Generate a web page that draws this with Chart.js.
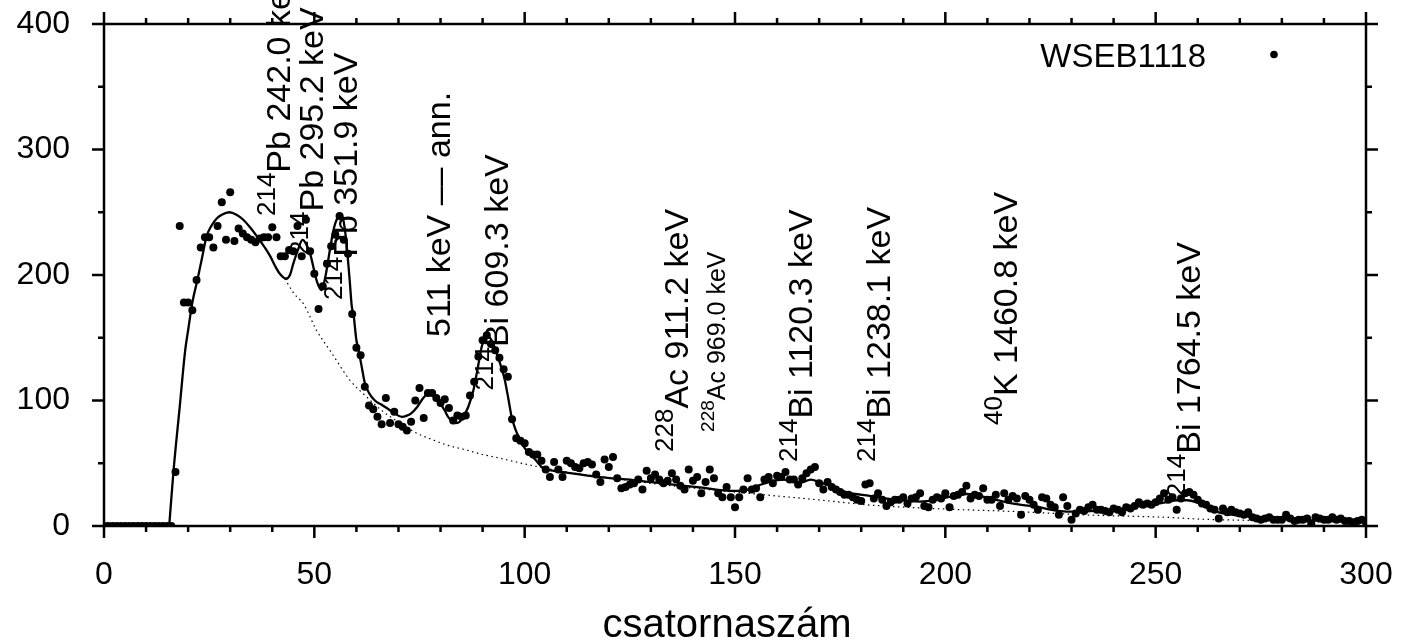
<!DOCTYPE html>
<html>
<head>
<meta charset="utf-8">
<title>WSEB1118</title>
<script src="https://cdn.jsdelivr.net/npm/chart.js@4.4.1/dist/chart.umd.min.js"></script>
<style>
  html, body { margin: 0; padding: 0; background: #fff; }
  canvas { display: block; }
</style>
</head>
<body>
<canvas id="spectrum" width="1412" height="641"></canvas>
<script>
// ─── Gamma spectrum, sample WSEB1118 ───────────────────────────────────────
// counts per channel (0..300), the fitted model and its background

const counts = [
  0, 0, 0, 0, 0, 0, 0, 0, 0, 0,
  0, 0, 0, 0, 0, 0, 0, 43, 239, 178,
  178, 172, 196, 222, 230, 230, 222, 239, 258, 228,
  266, 227, 237, 233, 230, 228, 226, 229, 230, 230,
  238, 230, 215, 215, 220, 219, 239, 215, 244, 219,
  201, 173, 191, 209, 223, 232, 247, 228, 217, 169,
  142, 136, 111, 96, 93, 87, 81, 102, 82, 91,
  81, 79, 76, 83, 100, 110, 86, 106, 106, 102,
  98, 101, 94, 84, 88, 87, 88, 104, 115, 135,
  148, 152, 145, 140, 134, 125, 119, 85, 70, 68,
  66, 59, 57, 57, 52, 45, 39, 51, 45, 39,
  52, 50, 47, 46, 50, 51, 49, 41, 35, 53,
  47, 55, 38, 30, 31, 33, 34, 37, 29, 44,
  38, 41, 37, 34, 36, 42, 37, 32, 29, 45,
  36, 39, 26, 35, 45, 38, 26, 23, 31, 23,
  15, 23, 29, 38, 29, 30, 23, 37, 39, 34,
  40, 39, 43, 37, 37, 33, 38, 42, 45, 47,
  34, 29, 35, 31, 29, 27, 25, 25, 23, 21,
  20, 33, 34, 22, 26, 21, 16, 19, 21, 21,
  23, 18, 22, 23, 26, 16, 15, 21, 23, 22,
  26, 15, 24, 25, 27, 32, 22, 25, 24, 30,
  21, 21, 25, 16, 26, 21, 24, 22, 9, 24,
  21, 17, 13, 23, 22, 17, 15, 9, 23, 16,
  5, 10, 13, 12, 15, 17, 13, 13, 12, 11,
  14, 13, 11, 15, 14, 16, 19, 17, 18, 17,
  19, 22, 26, 21, 23, 13, 22, 26, 27, 25,
  21, 18, 17, 14, 13, 6, 14, 11, 13, 11,
  10, 9, 11, 7, 6, 5, 6, 7, 5, 5,
  5, 9, 6, 4, 5, 5, 6, 2, 7, 6,
  5, 5, 7, 5, 6, 4, 4, 3, 4, 5,
  3
];

// fitted model (solid line)
const fitCh = [
  15.5, 16.5, 18, 19.3, 20, 21, 22.2, 23.2, 24.4, 25.5, 26.8, 28, 29.8, 31.5, 33.1,
  34.7, 36.3, 38, 39.5, 40.7, 41.8, 43.3, 44.2, 45, 46, 47.2, 48, 49, 50, 50.6,
  51.7, 52.7, 53.7, 54.5, 55.3, 56.5, 57.2, 57.7, 58.4, 58.9, 59.3, 60, 60.4, 61.2, 62,
  63, 64.4, 65.8, 67.2, 69, 70.8, 72, 73.1, 74.5, 75.9, 77.5, 78.7, 79.9, 81, 81.8,
  83.4, 84.5, 85.4, 86.6, 87.8, 88.8, 89.8, 90.5, 91.3, 92.3, 93.3, 94.3, 95.3, 96.2, 96.9,
  97.8, 98.9, 100, 101.3, 102.5, 104.4, 107, 110, 117.9, 125.8, 133.7, 141.6, 149.6, 153, 155.9,
  158, 161.5, 163.5, 165.4, 167, 168, 170, 172.6, 176.5, 182, 188, 194, 198, 202, 205,
  207, 210, 213.8, 217.7, 221.7, 225, 228.8, 232, 237.5, 241, 245.5, 249, 252.6, 255, 257.5,
  260, 262, 264.5, 268, 272, 276.4, 282, 290, 300
];
const fitVal = [
  0, 43, 95, 140, 156, 178, 196, 212, 231, 239, 245, 248, 250, 248, 244,
  238, 231, 223, 215, 207, 201, 197, 200, 209, 219, 228, 225, 217, 203, 195,
  188, 200, 220, 235, 244, 248, 238, 223, 196, 175, 169, 148, 142, 128, 114,
  106, 100, 97, 94, 90, 87, 88, 90, 95, 102, 106, 104, 98, 92, 87,
  82, 83, 87, 95, 108, 125, 143, 149, 151, 147, 138, 128, 116, 100, 87,
  77, 69, 62, 58, 53, 46, 44, 42.5, 39, 36.6, 33.5, 30.8, 28, 29, 32.7,
  35, 37, 35.5, 34.5, 36, 37, 35, 32, 27, 24, 21, 19.5, 21, 24, 25.5,
  25, 22.5, 19.4, 17, 15.4, 13, 11.5, 11.5, 12.7, 13.5, 15.4, 17, 19, 20.5, 20.5,
  18.5, 15.5, 11.4, 9, 7.5, 6, 5, 4, 3.5
];

// background under the peaks (dotted line)
const bgCh = [
  43, 45, 47.6, 50.5, 53.7, 58.5, 62.4, 66.4, 70.4, 74.3, 78.3, 82, 86.2, 90, 94.1,
  98, 102, 110, 120, 130, 137.7, 147, 157.5, 170.2, 176.5, 182, 200, 217.7, 233.6, 252.6,
  260.5, 275, 290
];
const bgVal = [
  197, 186, 176, 156, 140, 116, 103, 91, 82, 74, 68.5, 64, 60.5, 57, 54,
  51, 48, 43, 38.5, 34, 31, 28, 24.7, 20.7, 18.5, 16.7, 13.5, 11.4, 8.8, 6.9,
  5.5, 4.3, 3.2
];

// peak identifications: isotope mass number, line text, anchor (channel, counts)
const peakMass = ['214', '214', '214', '', '214', '228', '228', '214', '214', '40', '214'];
const peakText = [
  'Pb 242.0 keV', 'Pb 295.2 keV', 'Pb 351.9 keV', '511 keV –– ann.', 'Bi 609.3 keV',
  'Ac 911.2 keV', 'Ac 969.0 keV', 'Bi 1120.3 keV', 'Bi 1238.1 keV', 'K 1460.8 keV', 'Bi 1764.5 keV'
];
const peakCh = [44.2, 52.1, 60.1, 82.2, 96, 138.8, 147.6, 168.3, 186.8, 217, 260.5];
const peakAt = [247, 216, 180, 150.6, 108, 59, 75, 51, 51, 80.5, 23];
const peakSmall = [false, false, false, false, false, false, true, false, false, false, false];

const xMax = 300, yMax = 400;
const xMajor = 50, xMinor = 10;
const yMajor = 100, yMinor = 50;
const sampleName = 'WSEB1118';
const xTitle = 'csatornaszám';

const FONT = '"Liberation Sans", Arial, sans-serif';

// gnuplot-like border with outward ticks on all four sides
const frameTicks = {
  id: 'frameTicks',
  afterDraw(chart) {
    const { ctx, chartArea: a, scales: { x, y } } = chart;
    ctx.save();
    ctx.strokeStyle = '#000';
    ctx.lineWidth = 2.5;
    ctx.strokeRect(a.left, a.top, a.right - a.left, a.bottom - a.top);
    ctx.beginPath();
    for (let v = 0; v <= xMax; v += xMinor) {
      const px = x.getPixelForValue(v);
      const len = v % xMajor === 0 ? 12 : 6;
      ctx.moveTo(px, a.bottom); ctx.lineTo(px, a.bottom + len);
      ctx.moveTo(px, a.top); ctx.lineTo(px, a.top - len);
    }
    for (let v = 0; v <= yMax; v += yMinor) {
      const py = y.getPixelForValue(v);
      const len = v % yMajor === 0 ? 12 : 6;
      ctx.moveTo(a.left, py); ctx.lineTo(a.left - len, py);
      ctx.moveTo(a.right, py); ctx.lineTo(a.right + len, py);
    }
    ctx.stroke();

    // key
    ctx.fillStyle = '#000';
    ctx.font = '33px ' + FONT;
    ctx.textAlign = 'right';
    ctx.textBaseline = 'alphabetic';
    ctx.fillText(sampleName, 1206, 66.5);
    ctx.beginPath();
    ctx.arc(1274, 54.5, 3.8, 0, Math.PI * 2);
    ctx.fill();

    // x axis title
    ctx.font = '40px ' + FONT;
    ctx.textAlign = 'center';
    ctx.fillText(xTitle, 727, 637);
    ctx.restore();
  }
};

// vertical peak labels with a raised mass number
const peakLabels = {
  id: 'peakLabels',
  beforeDatasetsDraw(chart) {
    const { ctx, scales: { x, y } } = chart;
    ctx.save();
    ctx.fillStyle = '#000';
    ctx.textBaseline = 'alphabetic';
    ctx.textAlign = 'left';
    peakText.forEach((txt, i) => {
      const size = peakSmall[i] ? 25 : 34;
      const supSize = Math.round(size * 0.75);
      ctx.save();
      ctx.translate(x.getPixelForValue(peakCh[i]), y.getPixelForValue(peakAt[i]));
      ctx.rotate(-Math.PI / 2);
      let off = 0;
      if (peakMass[i]) {
        ctx.font = supSize + 'px ' + FONT;
        ctx.fillText(peakMass[i], 0, -size * 0.45);
        off = ctx.measureText(peakMass[i]).width;
      }
      ctx.font = size + 'px ' + FONT;
      ctx.fillText(txt, off, 0);
      ctx.restore();
    });
    ctx.restore();
  }
};

new Chart(document.getElementById('spectrum'), {
  type: 'scatter',
  data: {
    datasets: [
      {
        label: sampleName,
        data: counts.map((v, i) => ({ x: i, y: v })),
        showLine: false,
        pointRadius: 4,
        pointBackgroundColor: '#000',
        pointBorderWidth: 0,
        order: 1
      },
      {
        label: 'fit',
        data: fitCh.map((c, i) => ({ x: c, y: fitVal[i] })),
        showLine: true,
        borderColor: '#000',
        borderWidth: 2.3,
        pointRadius: 0,
        cubicInterpolationMode: 'monotone',
        order: 2
      },
      {
        label: 'background',
        data: bgCh.map((c, i) => ({ x: c, y: bgVal[i] })),
        showLine: true,
        borderColor: '#000',
        borderWidth: 1.2,
        borderDash: [1.5, 3.5],
        pointRadius: 0,
        cubicInterpolationMode: 'monotone',
        order: 3
      }
    ]
  },
  options: {
    responsive: false,
    animation: false,
    layout: { padding: { top: 24, right: 46, bottom: 0, left: 0 } },
    plugins: {
      legend: { display: false },
      tooltip: { enabled: false }
    },
    scales: {
      x: {
        type: 'linear',
        min: 0,
        max: xMax,
        border: { display: false },
        grid: { display: false, drawTicks: false },
        ticks: { stepSize: xMajor, color: '#000', padding: 30, font: { family: FONT, size: 32 } },
        afterFit: s => { s.height = 115; s.paddingLeft = 0; s.paddingRight = 0; }
      },
      y: {
        min: 0,
        max: yMax,
        border: { display: false },
        grid: { display: false, drawTicks: false },
        ticks: { stepSize: yMajor, color: '#000', padding: 34, font: { family: FONT, size: 32 } },
        afterFit: s => { s.width = 104; s.paddingTop = 0; s.paddingBottom = 0; }
      }
    }
  },
  plugins: [peakLabels, frameTicks]
});
</script>
</body>
</html>
